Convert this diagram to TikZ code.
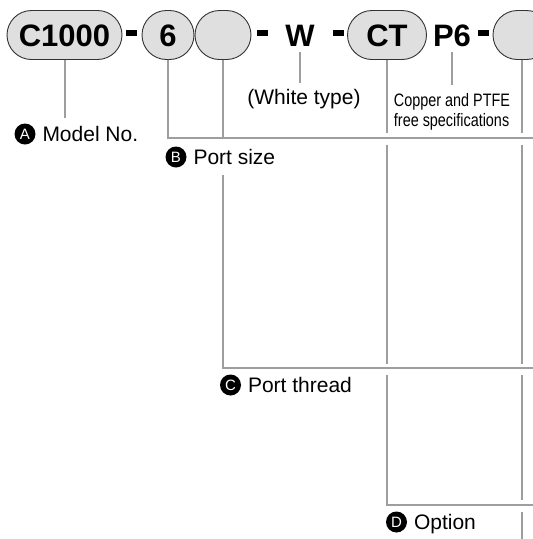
\documentclass[tikz,border=0pt]{standalone}
\usepackage{fontspec}
\setmainfont{Liberation Sans}
\usepackage{graphicx}
\usetikzlibrary{calc,shapes.misc}

\begin{document}
\begin{tikzpicture}[x=1pt, y=-1pt, inner sep=0pt, outer sep=0pt,
    code/.style={rounded rectangle, draw=black!80, fill=gray!25, line width=0.9pt,
      minimum height=49pt, text height=22pt, text depth=0pt,
      font=\fontsize{31}{31}\selectfont\bfseries},
    code_txt/.style={text height=22pt, text depth=0pt, outer ysep=6pt,
      font=\fontsize{31}{31}\selectfont\bfseries},
    hyph/.style={fill=black, minimum width=11pt, minimum height=6pt},
    lead/.style={draw=black!38, line width=2pt},
    tag/.style={circle, fill=black, text=white, minimum size=21pt,
      font=\fontsize{15}{15}\selectfont},
    lbl/.style={anchor=west, text height=15pt, text depth=0pt,
      font=\fontsize{21}{21}\selectfont}]
    \useasboundingbox (0,0) rectangle (533,539);
    \clip (0,0) rectangle (533,539);
    \coordinate (corner_br) at (533,539);
    \coordinate (lvl_b) at (0,138);
    \coordinate (lvl_c) at (0,368);
    \coordinate (lvl_d) at (0,505);

    % code row
    \node[code, minimum width=115pt] (code_model) at (64.5,35) {C1000};
    \node[hyph] (hyph_a) at (131.5,33) {};
    \node[code, minimum width=52pt] (code_size) at (168,35) {6};
    \node[code, minimum width=56pt] (code_thread) at (223,35) {};
    \node[hyph] (hyph_b) at (262,33) {};
    \node[code_txt] (code_w) at (300,35) {W};
    \node[hyph] (hyph_c) at (338,33) {};
    \node[code, minimum width=79pt] (code_ct) at (387,35) {CT};
    \node[code_txt] (code_p6) at (452,35) {P6};
    \node[hyph] (hyph_d) at (483,33) {};
    \node[code, minimum width=58pt] (code_opt) at (522,35) {};

    % notes under W and P6
    \node[anchor=north, outer ysep=6pt, text height=15pt, text depth=5pt,
      font=\fontsize{21}{21}\selectfont] (lbl_white) at (304,83) {(White type)};
    \node[anchor=north, outer ysep=7pt, font=\fontsize{18}{20}\selectfont] (lbl_copper) at (452,85)
    {\scalebox{0.8}[1]{\begin{tabular}{@{}l@{}}Copper and PTFE\\ free specifications\end{tabular}}};

    % A
    \node[tag] (tag_model) at (25,134) {A};
    \node[lbl] (lbl_model) at ($(tag_model.east)+(7pt,0)$) {Model No.};
    % B
    \node[tag] (tag_size) at (176,157) {B};
    \node[lbl] (lbl_size) at ($(tag_size.east)+(7pt,0)$) {Port size};
    % C
    \node[tag] (tag_thread) at (230.5,385) {C};
    \node[lbl] (lbl_thread) at ($(tag_thread.east)+(7pt,0)$) {Port thread};
    % D
    \node[tag] (tag_opt) at (396.5,522) {D};
    \node[lbl] (lbl_opt) at ($(tag_opt.east)+(7pt,0)$) {Option};

    % leads
    \draw[lead] (code_model.south) -- ($(code_model.south |- tag_model.north)+(0,-6)$);
    \draw[lead] (code_size.south) -- (code_size.south |- lvl_b) -- (lvl_b -| corner_br);
    \draw[lead] (code_thread.south) -- (code_thread.south |- lvl_b);
    \draw[lead] ($(code_thread.south |- tag_size.south)+(0,7)$)
      -- (code_thread.south |- lvl_c) -- (lvl_c -| corner_br);
    \draw[lead] (code_w.south) -- (code_w.south |- lbl_white.north);
    \draw[lead] (code_p6.south) -- (lbl_copper.north);

    % CT lead, broken where it passes the brackets
    \draw[lead] (code_ct.south) -- ($(code_ct.south |- lvl_b)+(0,-5)$);
    \draw[lead] ($(code_ct.south |- lvl_b)+(0,7)$) -- ($(code_ct.south |- lvl_c)+(0,-4)$);
    \draw[lead] ($(code_ct.south |- lvl_c)+(0,7)$) -- (code_ct.south |- lvl_d) -- (lvl_d -| corner_br);

    % option lead
    \draw[lead] (code_opt.south) -- ($(code_opt.south |- lvl_b)+(0,-5)$);
    \draw[lead] ($(code_opt.south |- lvl_b)+(0,7)$) -- ($(code_opt.south |- lvl_c)+(0,-4)$);
    \draw[lead] ($(code_opt.south |- lvl_c)+(0,7)$) -- ($(code_opt.south |- lvl_d)+(0,-5)$);
    \draw[lead] ($(code_opt.south |- lvl_d)+(0,7)$) -- (code_opt.south |- corner_br);
\end{tikzpicture}
\end{document}
